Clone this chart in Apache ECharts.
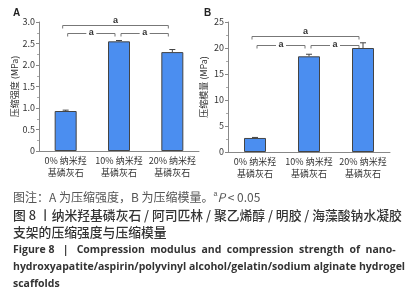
<!DOCTYPE html>
<html>
<head>
<meta charset="utf-8">
<script src="https://cdn.jsdelivr.net/npm/echarts@6/dist/echarts.min.js"></script>
<style>
  html, body { margin: 0; padding: 0; background: #fff; }
  #chart { width: 417px; height: 300px; }
</style>
</head>
<body>
<div id="chart"></div>
<script>
const categories = ["0% 纳米羟\n基磷灰石", "10% 纳米羟\n基磷灰石", "20% 纳米羟\n基磷灰石"];

// A: 压缩强度 (MPa)
const strengthValues = [0.93, 2.55, 2.3];
const strengthErrors = [0.02, 0.02, 0.06];
// B: 压缩模量 (MPa)
const modulusValues = [2.7, 18.4, 20.0];
const modulusErrors = [0.1, 0.4, 1.0];

// significance brackets: [from, to, height, label on line?]
const bracketsA = [[0, 2, 2.92, 0], [0, 1, 2.74, 1], [1, 2, 2.74, 1]];
const bracketsB = [[0, 2, 22.3, 0], [0, 1, 20.6, 1], [1, 2, 20.6, 1]];

const barColor = "#4b8ef0";
const cjk = '"Noto Sans CJK SC", "Noto Sans", sans-serif';

const chart = echarts.init(document.getElementById("chart"));

function errorBar(params, api) {
  const x = api.value(0);
  const top = api.coord([x, api.value(1) + api.value(2)]);
  const mid = api.coord([x, api.value(1)]);
  return {
    type: "group",
    children: [
      { type: "line", shape: { x1: top[0], y1: top[1], x2: mid[0], y2: mid[1] }, style: { stroke: "#444", lineWidth: 1 } },
      { type: "line", shape: { x1: top[0] - 3, y1: top[1], x2: top[0] + 3, y2: top[1] }, style: { stroke: "#444", lineWidth: 1 } }
    ]
  };
}

function bracket(params, api) {
  const a = api.coord([api.value(0), api.value(2)]);
  const b = api.coord([api.value(1), api.value(2)]);
  const inline = api.value(3);
  const x1 = a[0] - 3 + (inline ? 5 : 0);
  const x2 = b[0] - 4;
  const y = Math.round(a[1]) + 0.5;
  const cx = (x1 + x2) / 2;
  const style = { stroke: "#777", lineWidth: 1 };
  const children = [
    { type: "line", shape: { x1: x1, y1: y, x2: x1, y2: y + 3 }, style: style },
    { type: "line", shape: { x1: x2, y1: y, x2: x2, y2: y + 3 }, style: style }
  ];
  if (inline) {
    children.push(
      { type: "line", shape: { x1: x1, y1: y, x2: cx - 5, y2: y }, style: style },
      { type: "line", shape: { x1: cx + 5, y1: y, x2: x2, y2: y }, style: style },
      { type: "text", style: { text: "a", x: cx, y: y - 1, align: "center", verticalAlign: "middle", font: "bold 9px sans-serif", fill: "#333" } }
    );
  } else {
    children.push(
      { type: "line", shape: { x1: x1, y1: y, x2: x2, y2: y }, style: style },
      { type: "text", style: { text: "a", x: cx, y: y - 5, align: "center", verticalAlign: "middle", font: "bold 9px sans-serif", fill: "#333" } }
    );
  }
  return { type: "group", children: children };
}

const axisLabelStyle = { fontSize: 9, color: "#333", fontFamily: cjk };

function xAxis(gridIndex) {
  return {
    type: "category",
    gridIndex: gridIndex,
    data: categories,
    axisLine: { lineStyle: { color: "#888" } },
    axisTick: { show: false },
    axisLabel: { ...axisLabelStyle, lineHeight: 12, margin: 4, interval: 0 }
  };
}

function yAxis(gridIndex, max, interval, name, gap, fmt) {
  return {
    type: "value",
    gridIndex: gridIndex,
    min: 0,
    max: max,
    interval: interval,
    name: name,
    nameLocation: "middle",
    nameGap: gap,
    nameTextStyle: { fontSize: 9, color: "#333", fontFamily: cjk },
    axisLine: { show: true, lineStyle: { color: "#888" } },
    axisTick: { show: true, length: 3, lineStyle: { color: "#888" } },
    minorTick: { show: true, splitNumber: 2, length: 2, lineStyle: { color: "#aaa" } },
    splitLine: { show: false },
    axisLabel: { ...axisLabelStyle, margin: 4, formatter: fmt }
  };
}

const barStyle = { color: barColor, borderColor: "#444", borderWidth: 1 };

chart.setOption({
  animation: false,
  grid: [
    { left: 39, top: 22, width: 160, height: 129 },
    { left: 228, top: 22, width: 162, height: 130 }
  ],
  xAxis: [xAxis(0), xAxis(1)],
  yAxis: [
    yAxis(0, 3, 0.5, "压缩强度 (MPa)", 20, (v) => (v === 0 ? "0" : v.toFixed(1))),
    yAxis(1, 25, 5, "压缩模量 (MPa)", 20, (v) => String(v))
  ],
  series: [
    { type: "bar", xAxisIndex: 0, yAxisIndex: 0, data: strengthValues, barWidth: 22, itemStyle: barStyle },
    { type: "bar", xAxisIndex: 1, yAxisIndex: 1, data: modulusValues, barWidth: 22, itemStyle: barStyle },
    {
      type: "custom", xAxisIndex: 0, yAxisIndex: 0, renderItem: errorBar, z: 3,
      data: strengthValues.map((v, i) => [i, v, strengthErrors[i]])
    },
    {
      type: "custom", xAxisIndex: 1, yAxisIndex: 1, renderItem: errorBar, z: 3,
      data: modulusValues.map((v, i) => [i, v, modulusErrors[i]])
    },
    { type: "custom", xAxisIndex: 0, yAxisIndex: 0, renderItem: bracket, data: bracketsA, clip: false },
    { type: "custom", xAxisIndex: 1, yAxisIndex: 1, renderItem: bracket, data: bracketsB, clip: false }
  ],
  graphic: [
    { type: "text", left: 13, top: 8, style: { text: "A", font: "bold 10px sans-serif", fill: "#222" } },
    { type: "text", left: 204, top: 8, style: { text: "B", font: "bold 10px sans-serif", fill: "#222" } },
    {
      type: "text", left: 13, top: 191,
      style: {
        text: "图注：A 为压缩强度，B 为压缩模量。{sup|a}{it|P} < 0.05",
        font: "12px " + cjk, fill: "#555",
        rich: {
          sup: { fontSize: 7, verticalAlign: "top", fill: "#555", padding: [0, 0, 6, 0] },
          it: { fontStyle: "italic", fontSize: 12, fill: "#555", fontFamily: cjk }
        }
      }
    },
    {
      type: "text", left: 13, top: 207,
      style: {
        text: "图 8 丨纳米羟基磷灰石 / 阿司匹林 / 聚乙烯醇 / 明胶 / 海藻酸钠水凝胶\n支架的压缩强度与压缩模量",
        font: "500 12.8px " + cjk, fill: "#333", lineHeight: 17
      }
    },
    {
      type: "text", left: 13, top: 242,
      style: {
        text: "Figure 8   |   Compression  modulus  and  compression  strength  of  nano-\nhydroxyapatite/aspirin/polyvinyl alcohol/gelatin/sodium alginate hydrogel\nscaffolds",
        font: "bold 10.5px \"Open Sans\", sans-serif", fill: "#333", lineHeight: 17
      }
    }
  ]
});
</script>
</body>
</html>
